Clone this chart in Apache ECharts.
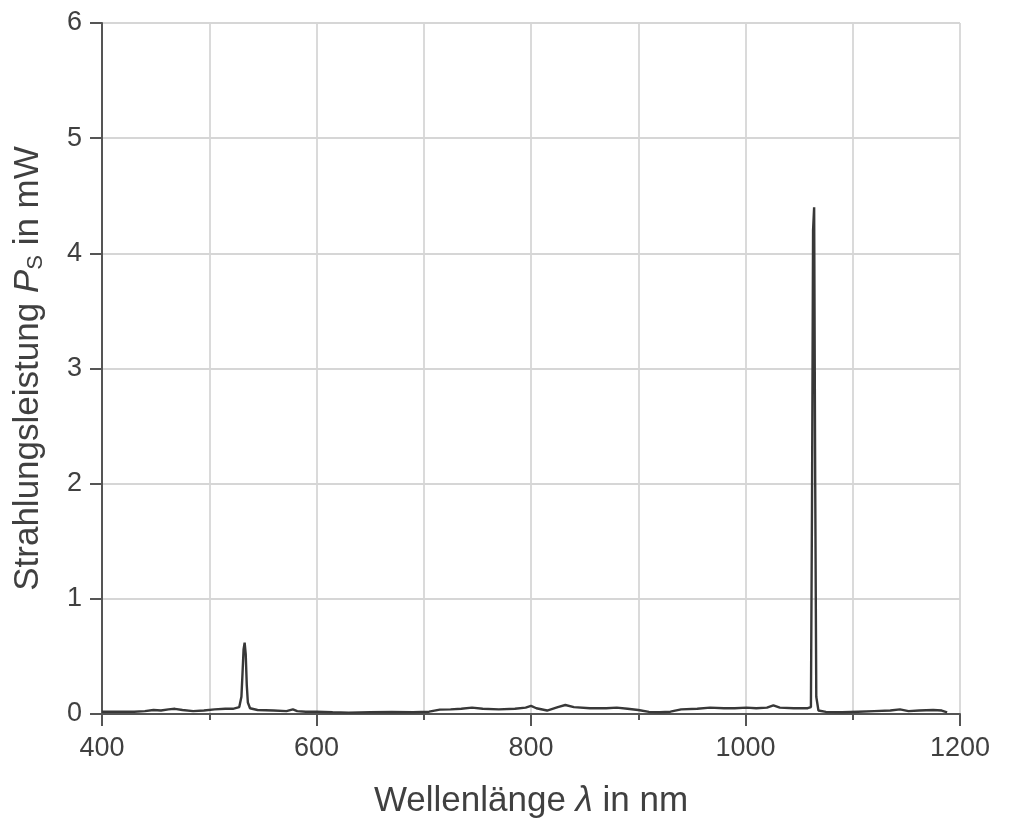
<!DOCTYPE html>
<html>
<head>
<meta charset="utf-8">
<script src="https://cdn.jsdelivr.net/npm/echarts@6/dist/echarts.min.js"></script>
<style>
  html, body { margin: 0; padding: 0; background: #fff; }
  #chart { width: 1024px; height: 825px; }
</style>
</head>
<body>
<div id="chart"></div>
<script>
// Wellenlänge in nm
var wavelength = [
  400, 410, 420, 430, 440, 448, 455, 462, 468, 475, 485, 495, 505, 515, 522, 528,
  530, 531, 532, 533, 534, 535, 536, 538, 545, 560, 572, 578, 582, 590, 600, 615,
  630, 650, 670, 690, 705, 715, 725, 735, 745, 755, 770, 785, 795, 800, 805, 815,
  825, 832, 840, 855, 870, 880, 890, 900, 910, 920, 930, 940, 955, 967, 980, 990,
  1001, 1010, 1020, 1026, 1032, 1045, 1058, 1061, 1062, 1063, 1064, 1065, 1066, 1068, 1075, 1090,
  1105, 1120, 1135, 1144, 1152, 1162, 1175, 1183, 1188
];
// Strahlungsleistung in mW
var power = [
  0.02, 0.02, 0.02, 0.02, 0.025, 0.035, 0.03, 0.04, 0.045, 0.035, 0.025, 0.03, 0.04, 0.045, 0.045, 0.06,
  0.15, 0.35, 0.56, 0.62, 0.52, 0.25, 0.1, 0.05, 0.035, 0.03, 0.025, 0.04, 0.025, 0.02, 0.02, 0.015,
  0.012, 0.015, 0.018, 0.015, 0.02, 0.038, 0.04, 0.045, 0.055, 0.045, 0.04, 0.045, 0.055, 0.07, 0.05, 0.03,
  0.06, 0.078, 0.06, 0.05, 0.05, 0.055, 0.045, 0.035, 0.018, 0.015, 0.02, 0.04, 0.045, 0.055, 0.05, 0.05,
  0.055, 0.05, 0.055, 0.075, 0.055, 0.05, 0.05, 0.06, 1.8, 4.2, 4.4, 2.0, 0.15, 0.03, 0.018, 0.015,
  0.02, 0.025, 0.03, 0.04, 0.025, 0.03, 0.035, 0.03, 0.015
];
var xTicks = [400, 600, 800, 1000, 1200];
var yTicks = [0, 1, 2, 3, 4, 5, 6];

var seriesData = wavelength.map(function (w, i) { return [w, power[i]]; });

var chart = echarts.init(document.getElementById('chart'));
var axisColor = '#555';
var textColor = '#404040';
var option = {
  backgroundColor: '#fff',
  animation: false,
  grid: { left: 102, right: 64, top: 23, bottom: 111 },
  xAxis: {
    type: 'value',
    min: xTicks[0],
    max: xTicks[xTicks.length - 1],
    interval: 200,
    name: 'Wellenlänge {i|λ} in nm',
    nameLocation: 'middle',
    nameGap: 70,
    nameTextStyle: {
      fontFamily: 'Liberation Sans',
      fontSize: 35,
      color: textColor,
      rich: { i: { fontStyle: 'italic', fontSize: 35, fontFamily: 'Liberation Sans', color: textColor } }
    },
    axisLine: { onZero: false, lineStyle: { color: axisColor, width: 2 } },
    axisTick: { inside: false, length: 12, lineStyle: { color: axisColor, width: 2 } },
    minorTick: { show: true, splitNumber: 2, length: 6, lineStyle: { color: axisColor, width: 2 } },
    axisLabel: {
      fontFamily: 'Liberation Sans', fontSize: 27, color: textColor, margin: 21,
      formatter: function (v) { return String(v); }
    },
    splitLine: { show: true, lineStyle: { color: '#d6d6d6', width: 1.8 } },
    minorSplitLine: { show: true, lineStyle: { color: '#d6d6d6', width: 1.8 } }
  },
  yAxis: {
    type: 'value',
    min: yTicks[0],
    max: yTicks[yTicks.length - 1],
    interval: 1,
    name: 'Strahlungsleistung {i|P}{sub|S} in mW',
    nameLocation: 'middle',
    nameGap: 55,
    nameTextStyle: {
      fontFamily: 'Liberation Sans',
      fontSize: 35,
      color: textColor,
      rich: {
        i: { fontStyle: 'italic', fontSize: 35, fontFamily: 'Liberation Sans', color: textColor },
        sub: { fontSize: 22, fontFamily: 'Liberation Sans', color: textColor, verticalAlign: 'bottom', padding: [16, 0, 0, 0] }
      }
    },
    axisLine: { show: true, lineStyle: { color: axisColor, width: 2 } },
    axisTick: { show: true, inside: false, length: 12, lineStyle: { color: axisColor, width: 2 } },
    axisLabel: { fontFamily: 'Liberation Sans', fontSize: 27, color: textColor, margin: 20 },
    splitLine: { show: true, lineStyle: { color: '#d6d6d6', width: 1.8 } }
  },
  series: [{
    type: 'line',
    data: seriesData,
    showSymbol: false,
    symbol: 'none',
    smooth: false,
    lineStyle: { color: '#383838', width: 2.4 },
    z: 3
  }]
};
chart.setOption(option);
</script>
</body>
</html>
